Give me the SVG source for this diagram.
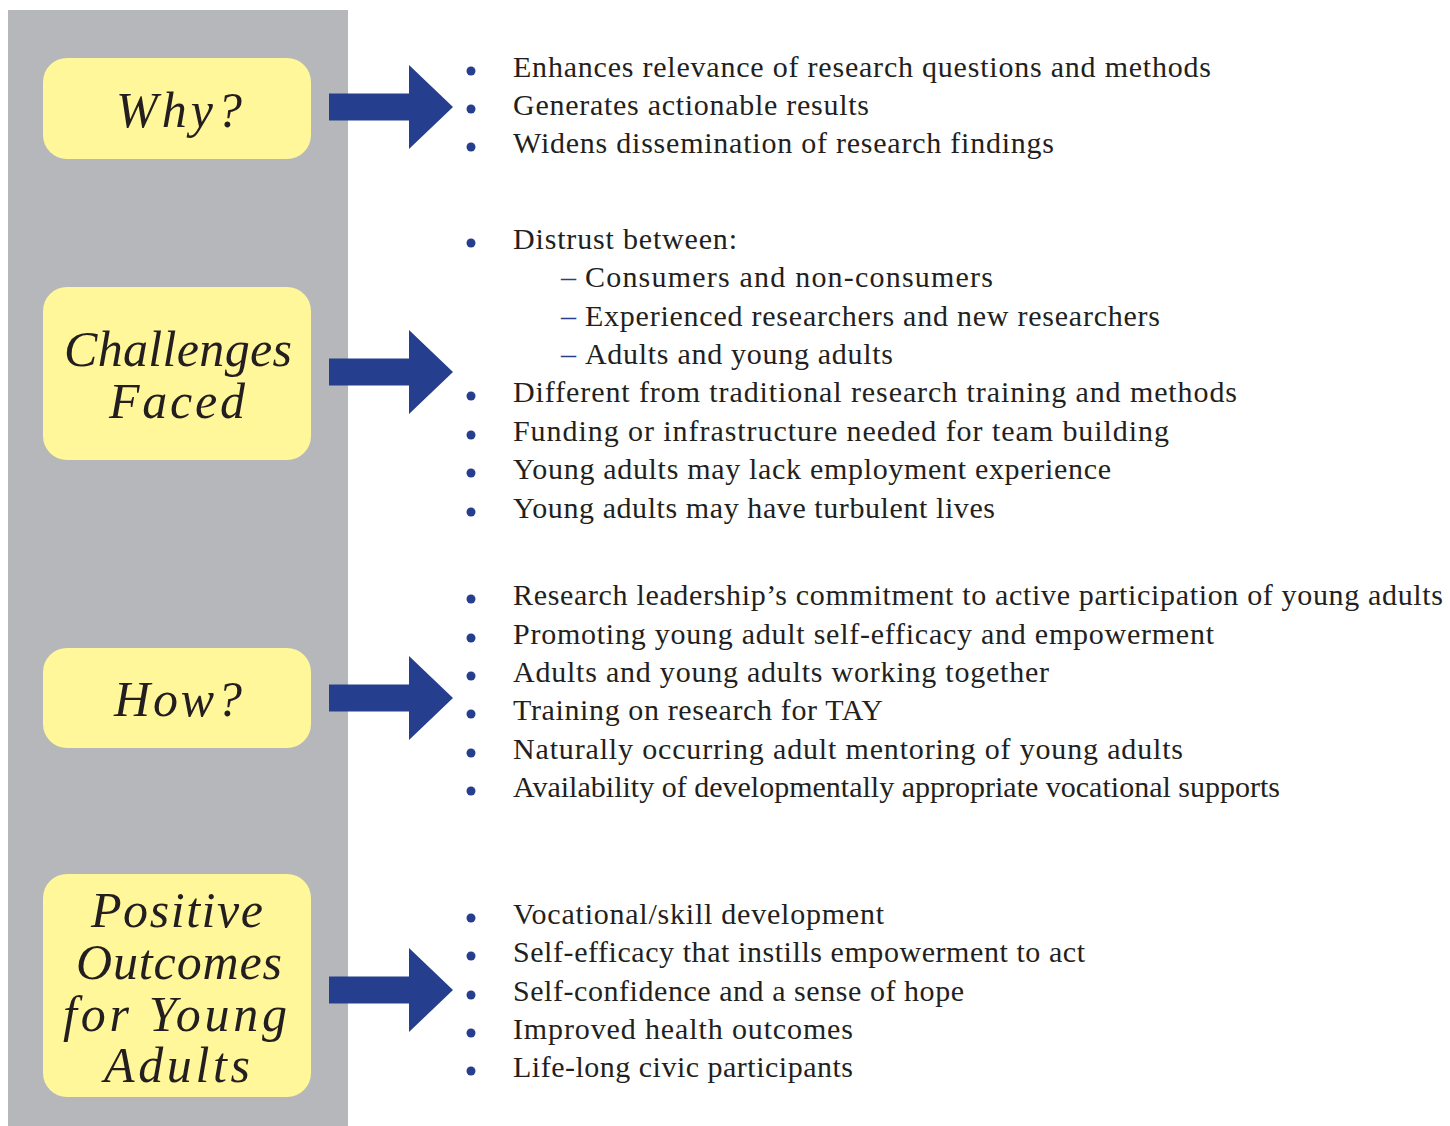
<svg xmlns="http://www.w3.org/2000/svg" width="1450" height="1126" viewBox="0 0 1450 1126">
<style>
.panel{fill:#b6b7bb}
.box{fill:#fff799}
.lbl{font-family:"Liberation Serif",serif;font-style:italic;font-size:50px;fill:#231f20;text-anchor:middle}
.arrow{fill:#253f8e}
.t{font-family:"Liberation Serif",serif;font-size:30px;fill:#231f20}
.dot{fill:#253f8e}
.dash{fill:#253f8e}
</style>
<defs>
<path id="arr" d="M0,-13.5 H80 V-42 L124,0 L80,42 V13.5 H0 Z"/>
<circle id="b" r="4.5"/>
</defs>
<rect class="panel" x="8" y="10" width="340" height="1116"/>
<g id="node-why">
<rect class="box" x="43" y="58" width="268" height="101" rx="24"/>
<text class="lbl" x="179" y="127" textLength="126" lengthAdjust="spacing">Why?</text>
</g>
<g id="node-challenges">
<rect class="box" x="43" y="287" width="268" height="173" rx="24"/>
<text class="lbl" x="178" y="366" textLength="228" lengthAdjust="spacing">Challenges</text>
<text class="lbl" x="177" y="418" textLength="136" lengthAdjust="spacing">Faced</text>
</g>
<g id="node-how">
<rect class="box" x="43" y="648" width="268" height="100" rx="24"/>
<text class="lbl" x="178" y="716" textLength="128" lengthAdjust="spacing">How?</text>
</g>
<g id="node-outcomes">
<rect class="box" x="43" y="874" width="268" height="223" rx="24"/>
<text class="lbl" x="177" y="927" textLength="172" lengthAdjust="spacing">Positive</text>
<text class="lbl" x="179" y="979" textLength="206" lengthAdjust="spacing">Outcomes</text>
<text class="lbl" x="175" y="1031" textLength="224" lengthAdjust="spacing">for Young</text>
<text class="lbl" x="177" y="1082" textLength="146" lengthAdjust="spacing">Adults</text>
</g>
<g id="connectors">
<use href="#arr" class="arrow" x="329" y="107"/>
<use href="#arr" class="arrow" x="329" y="372"/>
<use href="#arr" class="arrow" x="329" y="698"/>
<use href="#arr" class="arrow" x="329" y="990"/>
</g>
<g id="list-why">
<use href="#b" class="dot" x="471" y="71"/>
<use href="#b" class="dot" x="471" y="109"/>
<use href="#b" class="dot" x="471" y="147"/>
<text class="t" x="513" y="77" textLength="698" lengthAdjust="spacing">Enhances relevance of research questions and methods</text>
<text class="t" x="513" y="115" textLength="356" lengthAdjust="spacing">Generates actionable results</text>
<text class="t" x="513" y="153" textLength="541" lengthAdjust="spacing">Widens dissemination of research findings</text>
</g>
<g id="list-challenges">
<use href="#b" class="dot" x="471" y="243"/>
<text class="t" x="513" y="249" textLength="224" lengthAdjust="spacing">Distrust between:</text>
<text class="t dash" x="561" y="287">–</text>
<text class="t" x="585" y="287" textLength="408" lengthAdjust="spacing">Consumers and non-consumers</text>
<text class="t dash" x="561" y="326">–</text>
<text class="t" x="585" y="326" textLength="575" lengthAdjust="spacing">Experienced researchers and new researchers</text>
<text class="t dash" x="561" y="364">–</text>
<text class="t" x="585" y="364" textLength="308" lengthAdjust="spacing">Adults and young adults</text>
<use href="#b" class="dot" x="471" y="396"/>
<use href="#b" class="dot" x="471" y="435"/>
<use href="#b" class="dot" x="471" y="473"/>
<use href="#b" class="dot" x="471" y="512"/>
<text class="t" x="513" y="402" textLength="724" lengthAdjust="spacing">Different from traditional research training and methods</text>
<text class="t" x="513" y="441" textLength="656" lengthAdjust="spacing">Funding or infrastructure needed for team building</text>
<text class="t" x="513" y="479" textLength="598" lengthAdjust="spacing">Young adults may lack employment experience</text>
<text class="t" x="513" y="518" textLength="482" lengthAdjust="spacing">Young adults may have turbulent lives</text>
</g>
<g id="list-how">
<use href="#b" class="dot" x="471" y="599"/>
<use href="#b" class="dot" x="471" y="638"/>
<use href="#b" class="dot" x="471" y="676"/>
<use href="#b" class="dot" x="471" y="714"/>
<use href="#b" class="dot" x="471" y="753"/>
<use href="#b" class="dot" x="471" y="791"/>
<text class="t" x="513" y="605" textLength="930" lengthAdjust="spacing">Research leadership’s commitment to active participation of young adults</text>
<text class="t" x="513" y="644" textLength="701" lengthAdjust="spacing">Promoting young adult self-efficacy and empowerment</text>
<text class="t" x="513" y="682" textLength="536" lengthAdjust="spacing">Adults and young adults working together</text>
<text class="t" x="513" y="720" textLength="370" lengthAdjust="spacing">Training on research for TAY</text>
<text class="t" x="513" y="759" textLength="670" lengthAdjust="spacing">Naturally occurring adult mentoring of young adults</text>
<text class="t" x="513" y="797" textLength="767" lengthAdjust="spacing">Availability of developmentally appropriate vocational supports</text>
</g>
<g id="list-outcomes">
<use href="#b" class="dot" x="471" y="918"/>
<use href="#b" class="dot" x="471" y="956"/>
<use href="#b" class="dot" x="471" y="995"/>
<use href="#b" class="dot" x="471" y="1033"/>
<use href="#b" class="dot" x="471" y="1071"/>
<text class="t" x="513" y="924" textLength="371" lengthAdjust="spacing">Vocational/skill development</text>
<text class="t" x="513" y="962" textLength="572" lengthAdjust="spacing">Self-efficacy that instills empowerment to act</text>
<text class="t" x="513" y="1001" textLength="451" lengthAdjust="spacing">Self-confidence and a sense of hope</text>
<text class="t" x="513" y="1039" textLength="340" lengthAdjust="spacing">Improved health outcomes</text>
<text class="t" x="513" y="1077" textLength="340" lengthAdjust="spacing">Life-long civic participants</text>
</g>
</svg>
